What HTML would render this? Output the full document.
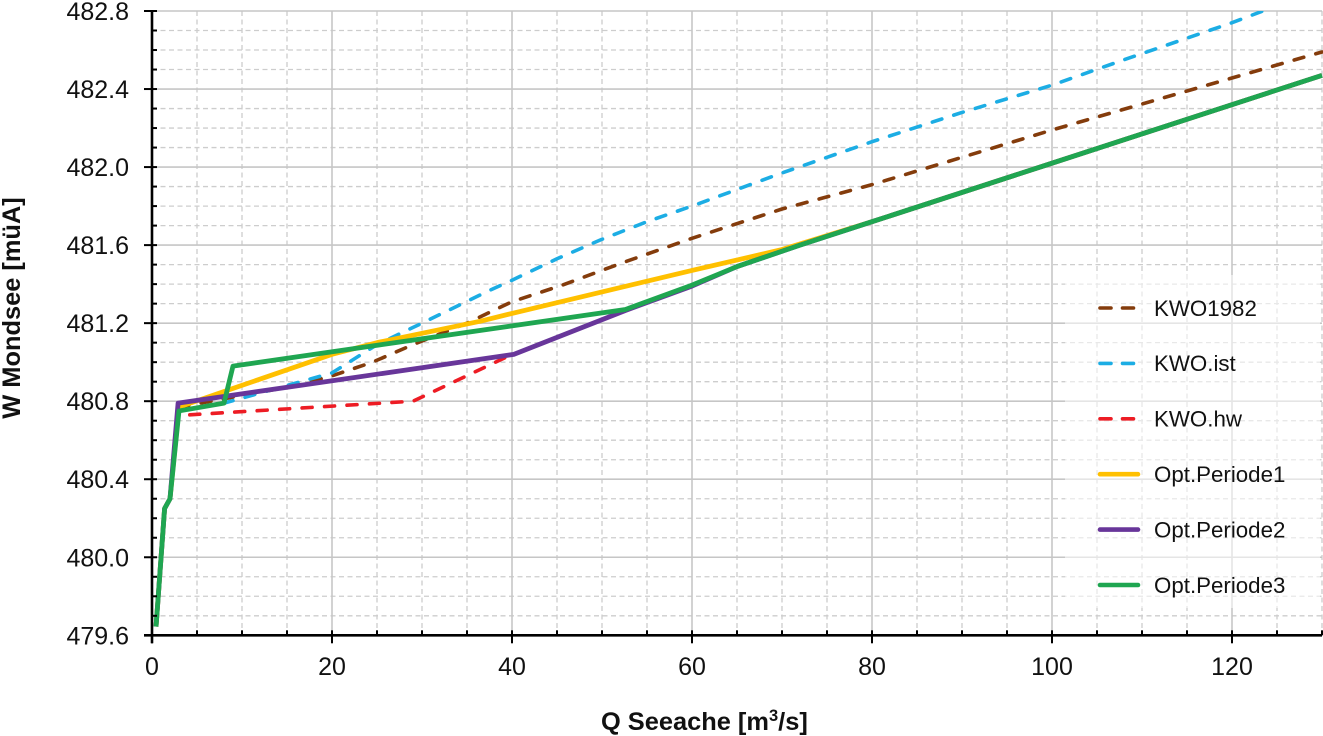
<!DOCTYPE html>
<html lang="en">
<head>
<meta charset="utf-8">
<title>W Mondsee vs Q Seeache</title>
<style>
html,body{margin:0;padding:0;background:#fff;width:1323px;height:736px;overflow:hidden}
svg{display:block}
text{font-family:"Liberation Sans",sans-serif;fill:#111}
</style>
</head>
<body>
<svg id="chart" xmlns="http://www.w3.org/2000/svg" width="1323" height="736" viewBox="0 0 1323 736"></svg>
<script>
// Axis ticks
var xMajorTicks = [0, 20, 40, 60, 80, 100, 120];
var xMinorTicks = [5, 10, 15, 25, 30, 35, 45, 50, 55, 65, 70, 75, 85, 90, 95, 105, 110, 115, 125, 130];
var yMajorTicks = [479.6, 480.0, 480.4, 480.8, 481.2, 481.6, 482.0, 482.4, 482.8];
var yMinorTicks = [479.7, 479.8, 479.9, 480.1, 480.2, 480.3, 480.5, 480.6, 480.7, 480.9, 481.0, 481.1, 481.3, 481.4, 481.5, 481.7, 481.8, 481.9, 482.1, 482.2, 482.3, 482.5, 482.6, 482.7];

// Series values
var kwo1982Q = [3, 16, 20, 24.5, 29, 35, 40, 45.6, 52.3, 60, 70, 80, 90, 100, 115, 130];
var kwo1982W = [480.77, 480.88, 480.93, 481.0, 481.09, 481.2, 481.31, 481.395, 481.51, 481.635, 481.785, 481.91, 482.05, 482.19, 482.39, 482.59];
var kwoIstQ = [3, 8, 20, 25, 30, 37.6, 40, 45, 50, 55, 60, 70, 80, 90, 100, 108, 120, 124];
var kwoIstW = [480.75, 480.79, 480.945, 481.09, 481.2, 481.37, 481.42, 481.53, 481.63, 481.72, 481.8, 481.97, 482.13, 482.28, 482.42, 482.55, 482.74, 482.81];
var kwoHwQ = [4.2, 29, 40];
var kwoHwW = [480.73, 480.80, 481.04];
var period1Q = [0.45, 1.4, 2.0, 3, 20, 25, 36.5, 40, 60, 69.8, 73, 80, 100, 130];
var period1W = [479.645, 480.25, 480.30, 480.77, 481.04, 481.10, 481.21, 481.25, 481.47, 481.575, 481.62, 481.72, 482.02, 482.47];
var period2Q = [0.45, 1.4, 2.0, 2.9, 40.2, 52.6, 60, 65, 72, 80, 100, 130];
var period2W = [479.645, 480.25, 480.30, 480.79, 481.04, 481.265, 481.39, 481.49, 481.6, 481.72, 482.02, 482.47];
var period3Q = [0.45, 1.4, 2.0, 3, 8, 9, 52.6, 60, 65, 72, 80, 100, 130];
var period3W = [479.645, 480.25, 480.30, 480.75, 480.79, 480.98, 481.27, 481.395, 481.49, 481.6, 481.72, 482.02, 482.47];

var seriesLabels = ['KWO1982', 'KWO.ist', 'KWO.hw', 'Opt.Periode1', 'Opt.Periode2', 'Opt.Periode3'];

var svg = document.getElementById('chart');
var NS = 'http://www.w3.org/2000/svg';
var plotLeft = 152, plotRight = 1322, plotTop = 11, plotBottom = 635.3;
function xScale(q) { return plotLeft + (q - 0) / (130 - 0) * (plotRight - plotLeft); }
function yScale(w) { return plotBottom - (w - 479.6) / (482.8 - 479.6) * (plotBottom - plotTop); }
function fmt(v) { return v.toFixed(2); }
function make(tag, attrs, parent) {
  var el = document.createElementNS(NS, tag);
  for (var k in attrs) { el.setAttribute(k, attrs[k]); }
  (parent || svg).appendChild(el);
  return el;
}

// clip
var defs = make('defs', {});
var clip = make('clipPath', {id: 'plot-clip'}, defs);
make('rect', {x: plotLeft, y: plotTop, width: plotRight - plotLeft + 1, height: plotBottom - plotTop}, clip);

// grid
var minorGrid = '#cdcdcd', majorGrid = '#c6c6c6';
xMinorTicks.forEach(function (q) {
  var el = make('line', {x1: fmt(xScale(q)), x2: fmt(xScale(q)), y1: plotTop, y2: plotBottom, stroke: minorGrid, 'stroke-width': 1.3, 'stroke-dasharray': '5 3.5'});
  
  
});
yMinorTicks.forEach(function (w) {
  var el = make('line', {x1: plotLeft, x2: plotRight, y1: fmt(yScale(w)), y2: fmt(yScale(w)), stroke: minorGrid, 'stroke-width': 1.3, 'stroke-dasharray': '5 3.5'});
  
  
});
xMajorTicks.forEach(function (q) {
  if (q === 0) return;
  var el = make('line', {x1: fmt(xScale(q)), x2: fmt(xScale(q)), y1: plotTop, y2: plotBottom, stroke: majorGrid, 'stroke-width': 1.6});
  
  
});
yMajorTicks.forEach(function (w) {
  if (w === 479.6) return;
  var el = make('line', {x1: plotLeft, x2: plotRight, y1: fmt(yScale(w)), y2: fmt(yScale(w)), stroke: majorGrid, 'stroke-width': 1.6});
  
  
});

// series
function drawSeries(name, qs, ws, color, width, dash) {
  var pts = qs.map(function (q, i) { return fmt(xScale(q)) + ',' + fmt(yScale(ws[i])); }).join(' ');
  var attrs = {points: pts, fill: 'none', stroke: color, 'stroke-width': width, 'stroke-linejoin': 'round', 'clip-path': 'url(#plot-clip)'};
  if (dash) { attrs['stroke-dasharray'] = dash; attrs['stroke-linecap'] = 'round'; }
  var el = make('polyline', attrs);
  
  
}
drawSeries('series-kwo1982', kwo1982Q, kwo1982W, '#843c0c', 3.6, '10 12.5');
drawSeries('series-kwo-ist', kwoIstQ, kwoIstW, '#1cade4', 3.6, '10 12.5');
drawSeries('series-kwo-hw', kwoHwQ, kwoHwW, '#ed1c24', 3.6, '10 12.5');
drawSeries('series-opt-periode1', period1Q, period1W, '#ffc000', 4.8);
drawSeries('series-opt-periode2', period2Q, period2W, '#68369a', 4.8);
drawSeries('series-opt-periode3', period3Q, period3W, '#1fa651', 4.8);

// legend
var legendBg = make('rect', {x: 1065, y: 275, width: 255, height: 333, fill: '#fff', 'fill-opacity': 0.55});


var legendColors = ['#843c0c', '#1cade4', '#ed1c24', '#ffc000', '#68369a', '#1fa651'];
seriesLabels.forEach(function (label, i) {
  var y = 308 + i * 55.4;
  var dashed = i < 3;
  var g = make('g', {});
  
  
  var attrs = {x1: 1100, x2: 1138, y1: y.toFixed(1), y2: y.toFixed(1), stroke: legendColors[i], 'stroke-width': dashed ? 3.6 : 4.6, 'stroke-linecap': 'round'};
  if (dashed) { attrs['stroke-dasharray'] = '11 11.5'; }
  var swatch = make('line', attrs, g);
  
  
  var t = make('text', {x: 1154, y: (y + 7.8).toFixed(1), 'font-size': 22.3}, g);
  t.textContent = label;
  
  
});

// axes
var axisColor = '#000';
var yAxis = make('line', {x1: plotLeft, x2: plotLeft, y1: plotTop - 1, y2: plotBottom + 8, stroke: axisColor, 'stroke-width': 2.6});


var xAxis = make('line', {x1: plotLeft - 8, x2: plotRight, y1: plotBottom, y2: plotBottom, stroke: axisColor, 'stroke-width': 2.6});



yMajorTicks.forEach(function (w) {
  var y = yScale(w);
  var tick = make('line', {x1: plotLeft - 8, x2: plotLeft + 5, y1: fmt(y), y2: fmt(y), stroke: axisColor, 'stroke-width': 2});
  
  
  var t = make('text', {x: 129, y: fmt(y + 9), 'text-anchor': 'end', 'font-size': 25});
  t.textContent = w.toFixed(1);
  
  
});
yMinorTicks.forEach(function (w) {
  var tick = make('line', {x1: plotLeft, x2: plotLeft + 5, y1: fmt(yScale(w)), y2: fmt(yScale(w)), stroke: axisColor, 'stroke-width': 2});
  
  
});
xMajorTicks.forEach(function (q) {
  var x = xScale(q);
  var tick = make('line', {x1: fmt(x), x2: fmt(x), y1: plotBottom - 5, y2: plotBottom + 8, stroke: axisColor, 'stroke-width': 2});
  
  
  var t = make('text', {x: fmt(x), y: 675, 'text-anchor': 'middle', 'font-size': 25});
  t.textContent = String(q);
  
  
});
xMinorTicks.forEach(function (q) {
  var tick = make('line', {x1: fmt(xScale(q)), x2: fmt(xScale(q)), y1: plotBottom - 5, y2: plotBottom, stroke: axisColor, 'stroke-width': 2});
  
  
});

// titles
var xTitle = make('text', {x: 601, y: 730, 'font-size': 25.4, 'font-weight': 'bold'});


var xTitleMain = make('tspan', {}, xTitle);
xTitleMain.textContent = 'Q Seeache [m';
var xTitleSup = make('tspan', {dy: -9, 'font-size': 16.5}, xTitle);
xTitleSup.textContent = '3';
var xTitleEnd = make('tspan', {dy: 9}, xTitle);
xTitleEnd.textContent = '/s]';
var yTitle = make('text', {x: 0, y: 0, transform: 'translate(20 308) rotate(-90)', 'text-anchor': 'middle', 'font-size': 25.4, 'font-weight': 'bold'});
yTitle.textContent = 'W Mondsee [m\u00FCA]';


</script>
</body>
</html>
